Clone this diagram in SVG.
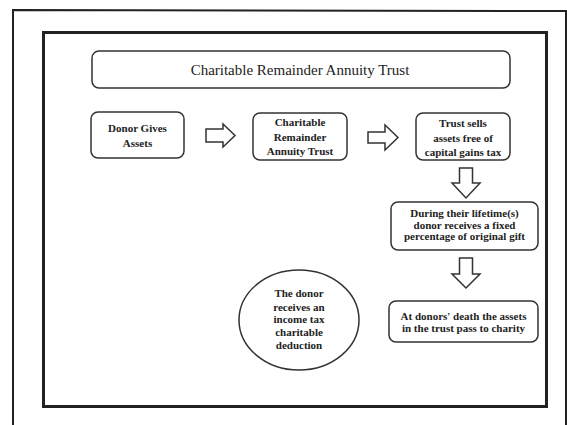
<svg xmlns="http://www.w3.org/2000/svg" width="567" height="425" viewBox="0 0 567 425">
<style>
.box{fill:#fff;stroke:#333;stroke-width:1.5}
.t{font-family:"Liberation Serif","DejaVu Serif","Times New Roman",serif;font-size:11px;font-weight:bold;fill:#222;text-anchor:middle}
.title{font-family:"Liberation Serif","DejaVu Serif","Times New Roman",serif;font-size:15px;fill:#222;text-anchor:middle}
.arr{fill:#fff;stroke:#333;stroke-width:1.5;stroke-linejoin:miter}
</style>
<rect width="567" height="425" fill="#fff"/>
<path d="M13 440 L13 10 L566 11 L566 440" fill="none" stroke="#222" stroke-width="2"/>
<rect x="43.5" y="32.5" width="503" height="374" fill="#fff" stroke="#222" stroke-width="3"/>
<g id="title">
<rect class="box" x="92" y="51" width="418" height="37" rx="7"/>
<text class="title" x="300" y="75">Charitable Remainder Annuity Trust</text>
</g>
<g id="donor">
<rect class="box" x="91" y="112" width="93" height="46" rx="7"/>
<text class="t" x="137.5" y="132">Donor Gives</text>
<text class="t" x="137.5" y="147">Assets</text>
</g>
<g id="crat">
<rect class="box" x="253" y="113" width="94" height="47" rx="7"/>
<text class="t" x="300" y="126">Charitable</text>
<text class="t" x="300" y="140.5">Remainder</text>
<text class="t" x="300" y="155">Annuity Trust</text>
</g>
<g id="sells">
<rect class="box" x="416" y="113" width="94" height="47" rx="7"/>
<text class="t" x="463" y="127">Trust sells</text>
<text class="t" x="463" y="141.5">assets free of</text>
<text class="t" x="463" y="156">capital gains tax</text>
</g>
<g id="lifetime">
<rect class="box" x="391" y="202" width="147" height="48" rx="7"/>
<text class="t" x="464.5" y="217">During their lifetime(s)</text>
<text class="t" x="464.5" y="228.5">donor receives a fixed</text>
<text class="t" x="464.5" y="240">percentage of original gift</text>
</g>
<g id="death">
<rect class="box" x="389" y="301" width="149" height="41" rx="7"/>
<text class="t" x="463.5" y="319.5">At donors' death the assets</text>
<text class="t" x="463.5" y="332">in the trust pass to charity</text>
</g>
<g id="deduction">
<ellipse class="box" cx="299" cy="320" rx="60" ry="50"/>
<text class="t" x="299" y="297">The donor</text>
<text class="t" x="299" y="310.5">receives an</text>
<text class="t" x="299" y="323">income tax</text>
<text class="t" x="299" y="336">charitable</text>
<text class="t" x="299" y="349">deduction</text>
</g>
<g id="connectors">
<path class="arr" d="M206 129 H223 V124 L235 135.5 L223 147 V142 H206 Z"/>
<path class="arr" d="M368 132 H385 V125 L398 137.5 L385 150 V143 H368 Z"/>
<path class="arr" d="M459.5 168 H472.5 V183 H480 L466 198 L452 183 H459.5 Z"/>
<path class="arr" d="M459.5 258 H472.5 V274 H480 L466 288 L452 274 H459.5 Z"/>
</g>
</svg>
